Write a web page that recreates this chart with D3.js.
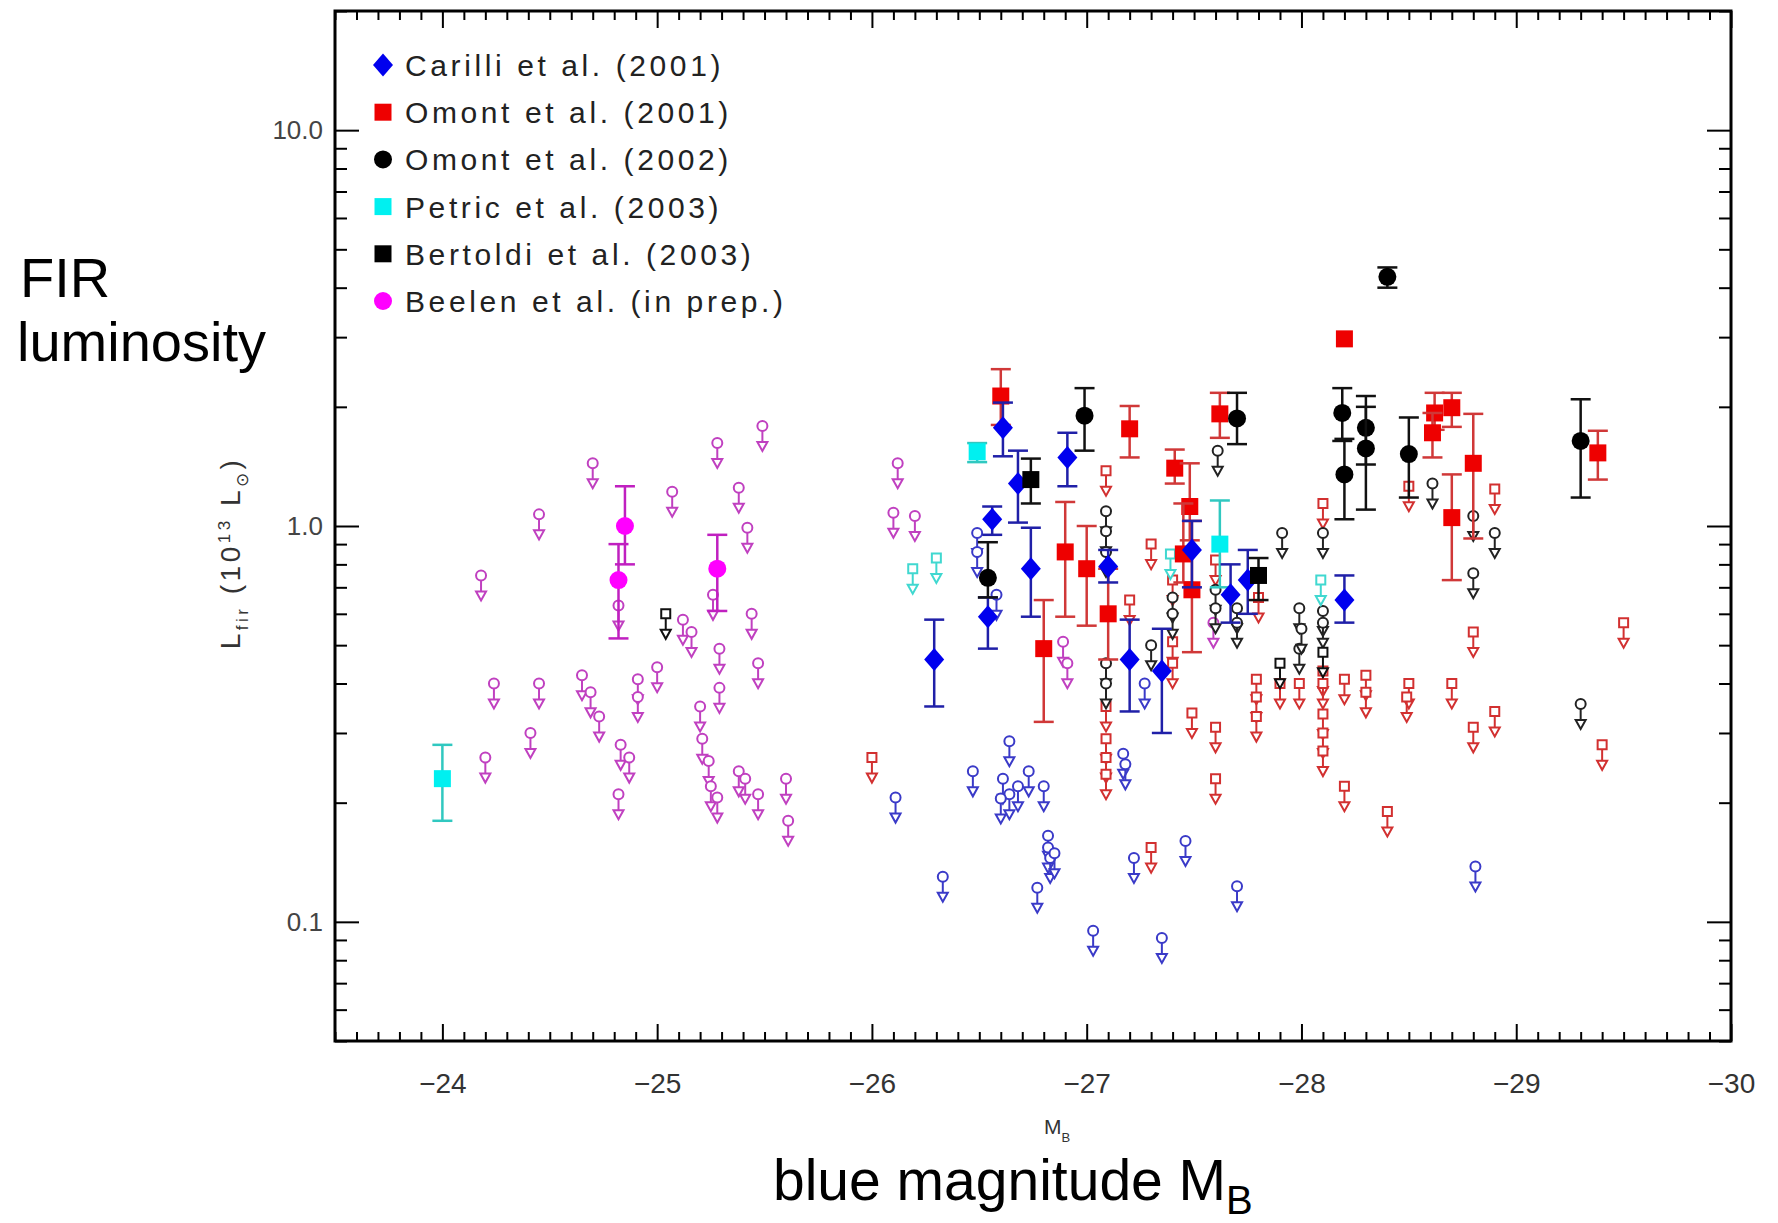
<!DOCTYPE html>
<head>
    <meta charset="utf-8">
    <script src="https://cdn.jsdelivr.net/npm/d3@7"></script>
    <style>
        body { margin: 0; background: #fff; }
        text { font-family: "Liberation Sans", Arial, sans-serif; }
        .tick line { stroke: #000; stroke-width: 2px; }
        .domain { display: none; }
    </style>
</head>

<body>
<script>

    // axis ticks
    var xTicks = [-24, -25, -26, -27, -28, -29, -30];
    var yTicks = [0.1, 1, 10];
    var yTickLabels = ["0.1", "1.0", "10.0"];

    var legendLabels = ["Carilli et al. (2001)", "Omont et al. (2001)", "Omont et al. (2002)",
        "Petric et al. (2003)", "Bertoldi et al. (2003)", "Beelen et al. (in prep.)"];

    // detections: [M_B, L_fir, low, high]
    var carilliDet = [
        [-26.29, 0.46, 0.35, 0.58], [-26.61, 1.77, 1.50, 2.05], [-26.68, 1.28, 1.02, 1.55],
        [-26.91, 1.49, 1.26, 1.72], [-26.56, 1.04, 0.95, 1.12], [-26.54, 0.59, 0.49, 0.66],
        [-26.74, 0.78, 0.59, 0.99], [-27.10, 0.79, 0.72, 0.87], [-27.20, 0.46, 0.34, 0.58],
        [-27.35, 0.43, 0.30, 0.55], [-27.49, 0.87, 0.70, 1.03], [-27.67, 0.67, 0.57, 0.80],
        [-27.75, 0.73, 0.60, 0.87], [-28.20, 0.65, 0.57, 0.75]
    ];
    var omont01Det = [
        [-26.60, 2.13, 1.80, 2.49], [-27.20, 1.76, 1.49, 2.01], [-26.90, 0.86, 0.59, 1.15],
        [-27.00, 0.78, 0.56, 1.00], [-27.10, 0.60, 0.46, 0.78], [-26.80, 0.49, 0.32, 0.65],
        [-27.62, 1.92, 1.67, 2.17], [-27.41, 1.40, 1.28, 1.56], [-27.48, 1.12, 0.92, 1.44],
        [-27.45, 0.85, 0.72, 1.14], [-27.49, 0.69, 0.48, 1.03], [-28.20, 2.97, null, null],
        [-28.62, 1.93, 1.75, 2.17], [-28.70, 1.99, 1.78, 2.17], [-28.61, 1.72, 1.49, 1.93],
        [-28.70, 1.05, 0.73, 1.35], [-28.80, 1.44, 0.93, 1.92], [-29.38, 1.53, 1.31, 1.74]
    ];
    var omont02Det = [
        [-26.99, 1.90, 1.55, 2.23], [-26.54, 0.74, 0.66, 0.91], [-27.70, 1.87, 1.61, 2.17],
        [-28.19, 1.93, 1.64, 2.23], [-28.20, 1.35, 1.04, 1.66], [-28.30, 1.77, 1.43, 2.13],
        [-28.30, 1.57, 1.10, 2.00], [-28.50, 1.52, 1.18, 1.88], [-28.40, 4.26, 4.00, 4.50],
        [-29.30, 1.64, 1.18, 2.09]
    ];
    var petricDet = [
        [-24.00, 0.23, 0.18, 0.28], [-26.49, 1.54, 1.45, 1.62], [-27.62, 0.90, 0.70, 1.16]
    ];
    var bertoldiDet = [
        [-26.74, 1.31, 1.14, 1.48], [-27.80, 0.75, 0.65, 0.83]
    ];
    var beelenDet = [
        [-24.85, 1.00, 0.80, 1.26], [-24.82, 0.73, 0.52, 0.90], [-25.28, 0.78, 0.61, 0.95]
    ];

    // upper limits: [M_B, L_fir]
    var carilliUL = [
        [-26.11, 0.206], [-26.33, 0.13], [-26.47, 0.24], [-26.64, 0.286], [-26.61, 0.23],
        [-26.64, 0.21], [-26.60, 0.205], [-26.73, 0.24], [-26.80, 0.22], [-26.68, 0.22],
        [-26.82, 0.165], [-26.82, 0.154], [-26.83, 0.145], [-26.85, 0.149], [-26.77, 0.122],
        [-27.03, 0.095], [-27.35, 0.091], [-27.17, 0.266], [-27.18, 0.25], [-27.22, 0.145],
        [-27.27, 0.40], [-27.46, 0.16], [-27.70, 0.123], [-28.81, 0.138], [-26.49, 0.96],
        [-26.49, 0.86], [-26.58, 0.67]
    ];
    var omont01UL = [
        [-26.00, 0.26], [-27.09, 0.29], [-27.09, 0.26], [-27.09, 0.236], [-27.30, 0.154],
        [-27.20, 0.65], [-27.09, 1.38], [-27.09, 0.35], [-27.30, 0.90], [-27.40, 0.73],
        [-27.40, 0.51], [-27.60, 0.82], [-27.80, 0.66], [-28.10, 1.14], [-28.50, 1.26],
        [-28.90, 1.24], [-28.80, 0.54], [-29.50, 0.57], [-28.20, 0.41], [-28.30, 0.42],
        [-28.30, 0.38], [-28.50, 0.40], [-28.49, 0.37], [-28.70, 0.40], [-28.90, 0.34],
        [-28.80, 0.31], [-29.40, 0.28], [-28.20, 0.22], [-28.40, 0.19], [-28.10, 0.335],
        [-28.10, 0.30], [-28.10, 0.27], [-28.10, 0.43], [-28.10, 0.40], [-27.49, 0.337],
        [-27.60, 0.31], [-27.60, 0.23], [-27.79, 0.41], [-27.79, 0.37], [-27.79, 0.33],
        [-27.90, 0.40], [-27.99, 0.40], [-27.40, 0.45]
    ];
    var omont02UL = [
        [-27.09, 1.09], [-27.09, 0.97], [-27.09, 0.86], [-27.09, 0.45], [-27.09, 0.40],
        [-27.61, 1.55], [-27.40, 0.66], [-27.40, 0.60], [-27.30, 0.50], [-27.60, 0.69],
        [-27.60, 0.62], [-27.70, 0.62], [-27.70, 0.57], [-27.91, 0.96], [-28.10, 0.96],
        [-27.99, 0.62], [-28.10, 0.61], [-27.99, 0.49], [-28.61, 1.28], [-28.80, 1.06],
        [-28.90, 0.96], [-28.80, 0.76], [-29.30, 0.355], [-28.10, 0.57], [-28.00, 0.55]
    ];
    var petricUL = [
        [-26.19, 0.78], [-26.30, 0.83], [-28.09, 0.73], [-27.39, 0.85]
    ];
    var bertoldiUL = [
        [-25.04, 0.60], [-28.10, 0.48], [-27.90, 0.45]
    ];
    var beelenUL = [
        [-24.70, 1.44], [-25.07, 1.22], [-25.28, 1.62], [-25.38, 1.25], [-24.45, 1.07],
        [-24.18, 0.75], [-24.82, 0.63], [-25.12, 0.58], [-25.16, 0.54], [-25.29, 0.49],
        [-25.29, 0.39], [-25.00, 0.44], [-24.91, 0.41], [-24.65, 0.42], [-24.45, 0.40],
        [-24.24, 0.40], [-24.41, 0.30], [-24.20, 0.26], [-24.69, 0.38], [-24.73, 0.33],
        [-24.83, 0.28], [-24.87, 0.26], [-24.82, 0.21], [-24.91, 0.37], [-25.20, 0.35],
        [-25.21, 0.29], [-25.24, 0.255], [-25.25, 0.22], [-25.28, 0.206], [-25.38, 0.24],
        [-25.41, 0.23], [-25.47, 0.21], [-25.60, 0.23], [-25.61, 0.18], [-25.42, 0.99],
        [-25.44, 0.60], [-25.47, 0.45], [-25.49, 1.79], [-26.12, 1.44], [-26.10, 1.08],
        [-26.20, 1.06], [-26.89, 0.51], [-26.91, 0.45], [-27.59, 0.57], [-25.26, 0.67]
    ];

    var svg = d3.select("body").append("svg")
        .attr("width", 1778)
        .attr("height", 1223);

    var x = d3.scaleLinear().domain([-23.5, -30]).range([335, 1731]);
    var y = d3.scaleLog().domain([0.05, 20]).range([1041, 11]);

    var xMinor = d3.range(-235, -301, -1).map(function(d) { return d / 10; })
        .filter(function(d) { return !Number.isInteger(d); });
    var yMinor = [];
    [0.01, 0.1, 1, 10].forEach(function(b) {
        for (var m = 2; m <= 9; m++) {
            var v = +(b * m).toPrecision(3);
            if (v >= 0.05 && v <= 20) yMinor.push(v);
        }
    });

    // axes
    svg.append("g").attr("transform", "translate(0,1041)")
        .call(d3.axisBottom(x).tickValues(xTicks).tickSize(-17).tickSizeOuter(0).tickPadding(32)
            .tickFormat(d3.format("d")))
        .selectAll("text").style("font-size", "28px").style("fill", "#333")
        .style("font-family", "'Liberation Sans', Arial, sans-serif");
    svg.append("g").attr("transform", "translate(0,1041)")
        .call(d3.axisBottom(x).tickValues(xMinor).tickSize(-9).tickSizeOuter(0).tickFormat(""));
    svg.append("g").attr("transform", "translate(0,11)")
        .call(d3.axisTop(x).tickValues(xTicks).tickSize(-17).tickSizeOuter(0).tickFormat(""));
    svg.append("g").attr("transform", "translate(0,11)")
        .call(d3.axisTop(x).tickValues(xMinor).tickSize(-9).tickSizeOuter(0).tickFormat(""));

    svg.append("g").attr("transform", "translate(335,0)")
        .call(d3.axisLeft(y).tickValues(yTicks).tickSize(-24).tickSizeOuter(0).tickPadding(12)
            .tickFormat(function(d, i) { return yTickLabels[i]; }))
        .selectAll("text").style("font-size", "26px").style("fill", "#444")
        .style("font-family", "'Liberation Sans', Arial, sans-serif");
    svg.append("g").attr("transform", "translate(335,0)")
        .call(d3.axisLeft(y).tickValues(yMinor).tickSize(-12).tickSizeOuter(0).tickFormat(""));
    svg.append("g").attr("transform", "translate(1731,0)")
        .call(d3.axisRight(y).tickValues(yTicks).tickSize(-24).tickSizeOuter(0).tickFormat(""));
    svg.append("g").attr("transform", "translate(1731,0)")
        .call(d3.axisRight(y).tickValues(yMinor).tickSize(-12).tickSizeOuter(0).tickFormat(""));

    svg.append("rect")
        .attr("x", 335).attr("y", 11).attr("width", 1396).attr("height", 1030)
        .attr("fill", "none").attr("stroke", "#000").attr("stroke-width", 3);

    // marker shapes
    function shapePath(shape, s) {
        if (shape === "diamond") return "M0," + (-s * 1.15) + "L" + s + ",0L0," + (s * 1.15) + "L" + (-s) + ",0Z";
        if (shape === "square") return "M" + (-s) + "," + (-s) + "h" + (2 * s) + "v" + (2 * s) + "h" + (-2 * s) + "Z";
        return "M" + s + ",0A" + s + "," + s + " 0 1,1 " + (-s) + ",0A" + s + "," + s + " 0 1,1 " + s + ",0Z";
    }

    var plot = svg.append("g");

    function drawUL(data, shape, color) {
        var g = plot.append("g").attr("stroke", color).attr("stroke-width", 2).attr("fill", "none");
        var s = shape === "square" ? 4.5 : 5;
        data.forEach(function(d) {
            var px = x(d[0]), py = y(d[1]);
            g.append("path").attr("transform", "translate(" + px + "," + py + ")")
                .attr("d", shapePath(shape, s)).attr("fill", "#fff");
            g.append("line").attr("x1", px).attr("x2", px).attr("y1", py + s).attr("y2", py + 16);
            g.append("path").attr("d", "M" + (px - 5) + "," + (py + 16) + "L" + (px + 5) + "," + (py + 16)
                + "L" + px + "," + (py + 25) + "Z").attr("fill", "#fff");
        });
    }

    function drawDet(data, shape, color, barColor) {
        var g = plot.append("g");
        var s = shape === "square" ? 8.5 : (shape === "diamond" ? 10 : 9);
        data.forEach(function(d) {
            var px = x(d[0]), py = y(d[1]);
            if (d[2] !== null) {
                var y1 = y(d[3]), y2 = y(d[2]);
                g.append("line").attr("x1", px).attr("x2", px).attr("y1", y1).attr("y2", y2)
                    .attr("stroke", barColor).attr("stroke-width", 2.5);
                [y1, y2].forEach(function(c) {
                    g.append("line").attr("x1", px - 10).attr("x2", px + 10).attr("y1", c).attr("y2", c)
                        .attr("stroke", barColor).attr("stroke-width", 2.5);
                });
            }
            g.append("path").attr("transform", "translate(" + px + "," + py + ")")
                .attr("d", shapePath(shape, s)).attr("fill", color);
        });
    }

    drawUL(beelenUL, "circle", "#c040c0");
    drawUL(carilliUL, "circle", "#3a3ac8");
    drawUL(omont01UL, "square", "#d23030");
    drawUL(omont02UL, "circle", "#222");
    drawUL(bertoldiUL, "square", "#111");
    drawUL(petricUL, "square", "#40d8d0");

    drawDet(beelenDet, "circle", "#ff00ff", "#c020c0");
    drawDet(petricDet, "square", "#00f0f0", "#30c8c0");
    drawDet(omont01Det, "square", "#ee0000", "#d03838");
    drawDet(carilliDet, "diamond", "#0000ee", "#2020a8");
    drawDet(omont02Det, "circle", "#000", "#111");
    drawDet(bertoldiDet, "square", "#000", "#111");

    // legend
    var legendShapes = ["diamond", "square", "circle", "square", "square", "circle"];
    var legendColors = ["#0000ee", "#ee0000", "#000", "#00f0f0", "#000", "#ff00ff"];
    var legend = svg.append("g");
    legendLabels.forEach(function(t, i) {
        var ly = 65 + i * 47.2;
        var s = legendShapes[i] === "diamond" ? 10 : (legendShapes[i] === "circle" ? 9 : 8.5);
        legend.append("path").attr("transform", "translate(383," + ly + ")")
            .attr("d", shapePath(legendShapes[i], s)).attr("fill", legendColors[i]);
        legend.append("text").attr("x", 405).attr("y", ly + 11)
            .text(t).style("font-size", "30px").style("letter-spacing", "3.6px").style("fill", "#222");
    });

    // titles
    svg.append("text").attr("x", 20).attr("y", 297).text("FIR")
        .style("font-size", "56px").style("fill", "#000");
    svg.append("text").attr("x", 17).attr("y", 361).text("luminosity")
        .style("font-size", "56px").style("fill", "#000");

    var ylab = svg.append("text").attr("transform", "translate(240,553) rotate(-90)")
        .attr("text-anchor", "middle").style("font-size", "28px").style("fill", "#333")
        .style("letter-spacing", "3.5px");
    ylab.append("tspan").text("L");
    ylab.append("tspan").attr("dy", 8).style("font-size", "17px").text("fir");
    ylab.append("tspan").attr("dy", -8).text(" (10");
    ylab.append("tspan").attr("dy", -10).style("font-size", "17px").text("13");
    ylab.append("tspan").attr("dy", 10).text(" L");
    ylab.append("tspan").attr("dy", 8).style("font-size", "17px").text("⊙");
    ylab.append("tspan").attr("dy", -8).text(")");

    var mb = svg.append("text").attr("x", 1044).attr("y", 1134).style("font-size", "21px").style("fill", "#333");
    mb.append("tspan").text("M");
    mb.append("tspan").attr("dy", 8).style("font-size", "13px").text("B");

    var bt = svg.append("text").attr("x", 773).attr("y", 1200).style("font-size", "57px").style("fill", "#000");
    bt.append("tspan").text("blue magnitude M");
    bt.append("tspan").attr("dy", 14).style("font-size", "40px").text("B");

</script>
</body>
